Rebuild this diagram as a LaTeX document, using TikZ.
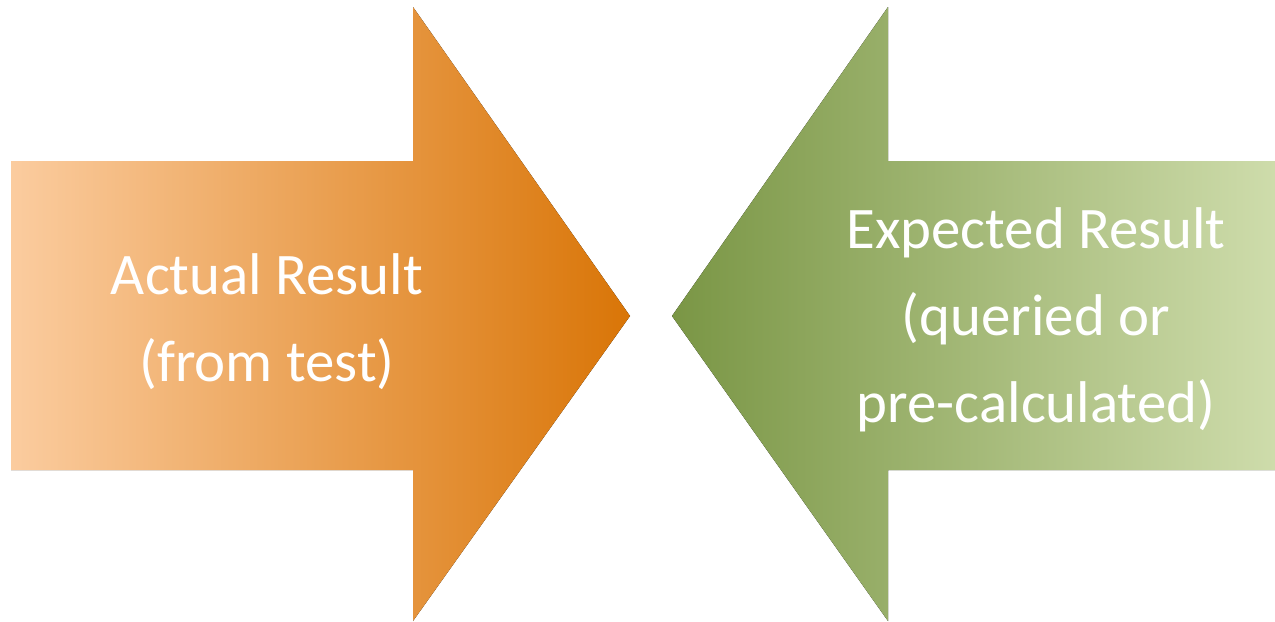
\documentclass[tikz,border=0pt]{standalone}
\usepackage{fontspec}
\setmainfont{Carlito}
\usepackage{tikz}

\definecolor{orangelight}{HTML}{FBCC9F}
\definecolor{orangemid}{HTML}{F7AB60}
\definecolor{orangedark}{HTML}{D97507}
\definecolor{greenlight}{HTML}{CEDCAB}
\definecolor{greenmid}{HTML}{AEC574}
\definecolor{greendark}{HTML}{7A9645}

\begin{document}
\begin{tikzpicture}[x=0.2mm, y=-0.2mm,
  arrowtext/.style={text=white, align=center, font=\fontsize{33.5}{49.5}\selectfont}]
\useasboundingbox (0,0) rectangle (1275,621);

\fill[left color=orangelight, middle color=orangemid, right color=orangedark]
  (11,161) -- (413,161) -- (413,7) -- (630,316) -- (413,621) -- (413,470) -- (11,470) -- cycle;
\fill[left color=greendark, middle color=greenmid, right color=greenlight]
  (1275,161) -- (888,161) -- (888,7) -- (672,316) -- (888,621) -- (888,470) -- (1275,470) -- cycle;

\node[arrowtext] (actual) at (267,322) {Actual Result\\(from test)};
\node[arrowtext] (expected) at (1036,320) {Expected Result\\(queried or\\pre-calculated)};
\end{tikzpicture}
\end{document}
